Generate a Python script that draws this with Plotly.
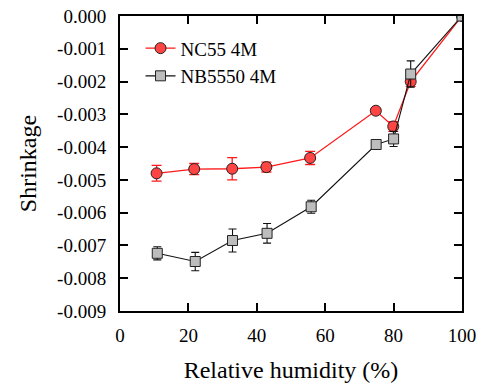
import plotly.graph_objects as go

rh_nc = [10.7, 21.7, 32.8, 42.8, 55.6, 74.8, 79.9, 85.0, 100.0]
nc55 = [-0.00480, -0.00467, -0.00466, -0.00461, -0.00433, -0.00289, -0.00337, -0.00200, 0.0]
nc55_err = [0.00024, 0.00017, 0.00034, 0.00015, 0.00020, 0.00006, 0.00015, 0.00015, 0.0]

rh_nb = [10.9, 22.0, 32.9, 43.0, 55.9, 74.9, 80.0, 85.0, 100.0]
nb5550 = [-0.00724, -0.00749, -0.00685, -0.00663, -0.00582, -0.00392, -0.00375, -0.00177, 0.0]
nb5550_err = [0.00020, 0.00028, 0.00035, 0.00030, 0.00020, 0.00008, 0.00023, 0.00040, 0.0]

y_ticks = [0, -0.001, -0.002, -0.003, -0.004, -0.005, -0.006, -0.007, -0.008, -0.009]
y_labels = ["0.000", "-0.001", "-0.002", "-0.003", "-0.004", "-0.005", "-0.006", "-0.007", "-0.008", "-0.009"]
x_ticks = [0, 20, 40, 60, 80, 100]

FONT = "Liberation Serif"

fig = go.Figure()
fig.add_trace(go.Scatter(
    x=rh_nc, y=nc55, name="NC55 4M", mode="lines+markers",
    line=dict(color="#ff1a1a", width=1.3),
    marker=dict(symbol="circle", size=11, color="#ff4444", line=dict(color="#222222", width=1)),
    error_y=dict(type="data", array=nc55_err, color="#ff1a1a", thickness=1.3, width=5),
))
fig.add_trace(go.Scatter(
    x=rh_nb, y=nb5550, name="NB5550 4M", mode="lines+markers",
    line=dict(color="#111111", width=1.1),
    marker=dict(symbol="square", size=10, color="#bdbdbd", line=dict(color="#222222", width=1)),
    error_y=dict(type="data", array=nb5550_err, color="#111111", thickness=1.1, width=4),
))

axis_common = dict(
    showline=True, linecolor="black", linewidth=2, mirror="ticks",
    ticks="inside", ticklen=8, tickwidth=2, tickcolor="black",
    showgrid=False, zeroline=False, automargin=False,
    tickfont=dict(family=FONT, size=19, color="black"),
)
fig.update_xaxes(range=[0, 100], tickvals=x_ticks,
                 title=dict(text="Relative humidity (%)", font=dict(family=FONT, size=24, color="black"), standoff=16),
                 ticklabelstandoff=6, **axis_common)
fig.update_yaxes(range=[-0.009, 0], tickvals=y_ticks, ticktext=y_labels,
                 title=dict(text="Shrinkage", font=dict(family=FONT, size=24, color="black"), standoff=14),
                 ticklabelstandoff=8, **axis_common)

fig.update_layout(
    width=482, height=388,
    margin=dict(l=120, r=20, t=16, b=77, autoexpand=False),
    paper_bgcolor="white", plot_bgcolor="white",
    font=dict(family=FONT, color="black"),
    showlegend=True,
    legend=dict(x=0.06, y=0.955, xanchor="left", yanchor="top",
                font=dict(family=FONT, size=19, color="black"),
                bgcolor="rgba(0,0,0,0)"),
)

fig.write_html("out.html")
